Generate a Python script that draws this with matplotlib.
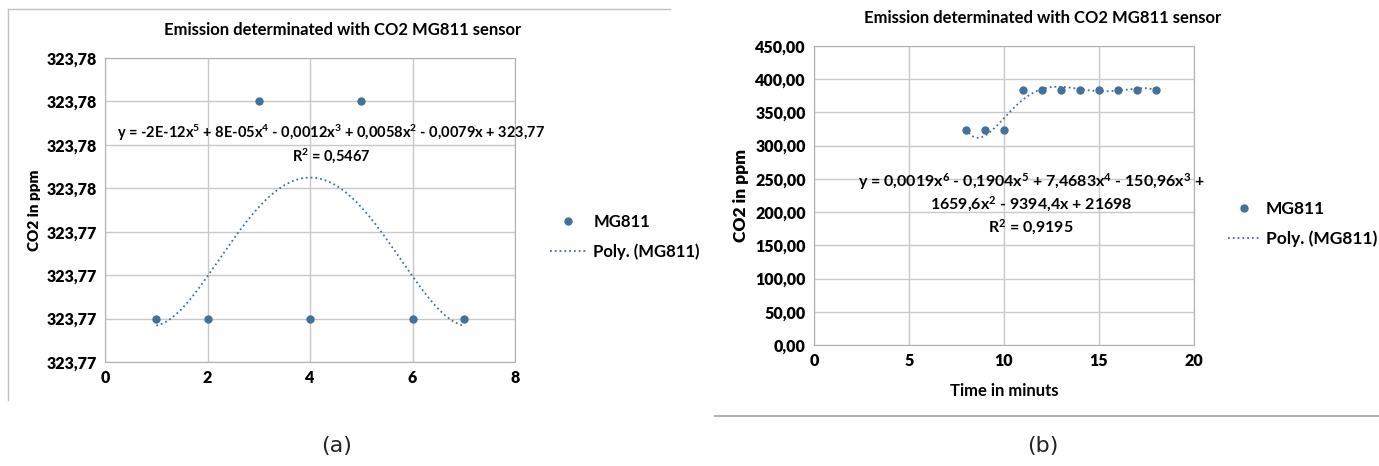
import numpy as np
import matplotlib
matplotlib.use("Agg")
import matplotlib.pyplot as plt
from matplotlib.lines import Line2D

plt.rcParams['font.family'] = ['Lato', 'DejaVu Sans']
plt.rcParams['font.weight'] = 'bold'
plt.rcParams['axes.labelweight'] = 'heavy'
plt.rcParams['mathtext.fontset'] = 'custom'
plt.rcParams['mathtext.rm'] = 'Lato:bold'
plt.rcParams['mathtext.it'] = 'Lato:bold'
plt.rcParams['mathtext.bf'] = 'Lato:bold'

# data (a)
xa = [1, 2, 3, 4, 5, 6, 7]
ya = [323.77, 323.77, 323.78, 323.77, 323.78, 323.77, 323.77]
xt_a = [0, 2, 4, 6, 8]
eq_a = "y = -2E-12x$^5$ + 8E-05x$^4$ - 0,0012x$^3$ + 0,0058x$^2$ - 0,0079x + 323,77\nR$^2$ = 0,5467"

# data (b)
xb = [8, 9, 10, 11, 12, 13, 14, 15, 16, 17, 18]
yb = [323.77, 323.77, 323.77, 384.2, 384.2, 384.2, 384.2, 384.2, 384.2, 384.2, 384.2]
xt_b = [0, 5, 10, 15, 20]
eq_b = ("y = 0,0019x$^6$ - 0,1904x$^5$ + 7,4683x$^4$ - 150,96x$^3$ +\n"
        "1659,6x$^2$ - 9394,4x + 21698\nR$^2$ = 0,9195")

title = "Emission determinated with CO2 MG811 sensor"
blue = '#41719C'
grid_c = '#c8c8c8'

W, H = 1379, 466
fig = plt.figure(figsize=(W / 100, H / 100), dpi=100)


def fx(px):
    return px / W


def fy(py):
    return 1 - py / H


def style(ax, xt, yt, yfmt):
    ax.set_xticks(xt, [str(v) for v in xt], fontweight='heavy', fontsize=11.5)
    ax.set_yticks(yt, [yfmt(v) for v in yt], fontweight='heavy', fontsize=11.5)
    ax.grid(True, color=grid_c, lw=1)
    ax.set_axisbelow(True)
    for s in ax.spines.values():
        s.set_color('#b0b0b0')
    ax.tick_params(length=0, pad=6)


def trend(ax, x, y, deg):
    c = np.polyfit(x, y, deg)
    xs = np.linspace(min(x), max(x), 300)
    ax.plot(xs, np.polyval(c, xs), ':', color=blue, lw=1.3, label='Poly. (MG811)')


def comma(v):
    return f"{v:.2f}".replace('.', ',')


# ---- (a)
ax1 = fig.add_axes([fx(105), fy(362), fx(515 - 105), (362 - 58) / H])
ax1.plot(xa, ya, 'o', color=blue, ms=5, label='MG811')
trend(ax1, xa, ya, 5)
ax1.set_xlim(0, 8)
ax1.set_ylim(323.768, 323.782)
style(ax1, xt_a, np.arange(323.768, 323.7821, 0.002), comma)
ax1.set_ylabel('CO2 in ppm', fontsize=11, labelpad=4)
fig.text(fx(343), fy(30), title, ha='center', va='center', fontsize=12)
fig.text(fx(331), fy(144), eq_a, ha='center', va='center', fontsize=10.5, linespacing=1.2)
ax1.legend(loc='center left', bbox_to_anchor=(fx(535), fy(237)), bbox_transform=fig.transFigure,
           frameon=False, prop={'size': 12, 'weight': 'bold'}, handlelength=2.2,
           handletextpad=0.4, labelspacing=0.8)

# ---- (b)
ax2 = fig.add_axes([fx(814), fy(345), fx(1194 - 814), (345 - 46) / H])
ax2.plot(xb, yb, 'o', color=blue, ms=5, label='MG811')
trend(ax2, xb, yb, 6)
ax2.set_xlim(0, 20)
ax2.set_ylim(0, 450)
style(ax2, xt_b, np.arange(0, 451, 50), comma)
ax2.set_ylabel('CO2 in ppm', fontsize=12.5, labelpad=4)
ax2.set_xlabel('Time in minuts', fontsize=12, labelpad=10, fontweight='bold')
fig.text(fx(1043), fy(18), title, ha='center', va='center', fontsize=12)
fig.text(fx(1031), fy(204), eq_b, ha='center', va='center', fontsize=11.5, linespacing=1.2)
ax2.legend(loc='center left', bbox_to_anchor=(fx(1212), fy(224)), bbox_transform=fig.transFigure,
           frameon=False, prop={'size': 12.5, 'weight': 'bold'}, handlelength=1.9,
           handletextpad=0.3, labelspacing=0.8)

# panel borders
fig.add_artist(Line2D([fx(8), fx(8)], [fy(9), fy(400)], color='#c0c0c0', lw=1))
fig.add_artist(Line2D([fx(8), fx(670)], [fy(9), fy(9)], color='#c0c0c0', lw=1))
fig.add_artist(Line2D([fx(715), fx(1379)], [fy(416), fy(416)], color='#a0a0a0', lw=1.2))

# captions
fig.text(fx(337), fy(446), '(a)', ha='center', va='center', fontsize=16,
         family=['DejaVu Sans'], fontweight='normal', color='#222222')
fig.text(fx(1043), fy(446), '(b)', ha='center', va='center', fontsize=16,
         family=['DejaVu Sans'], fontweight='normal', color='#222222')

fig.savefig('out.png', dpi=100)
